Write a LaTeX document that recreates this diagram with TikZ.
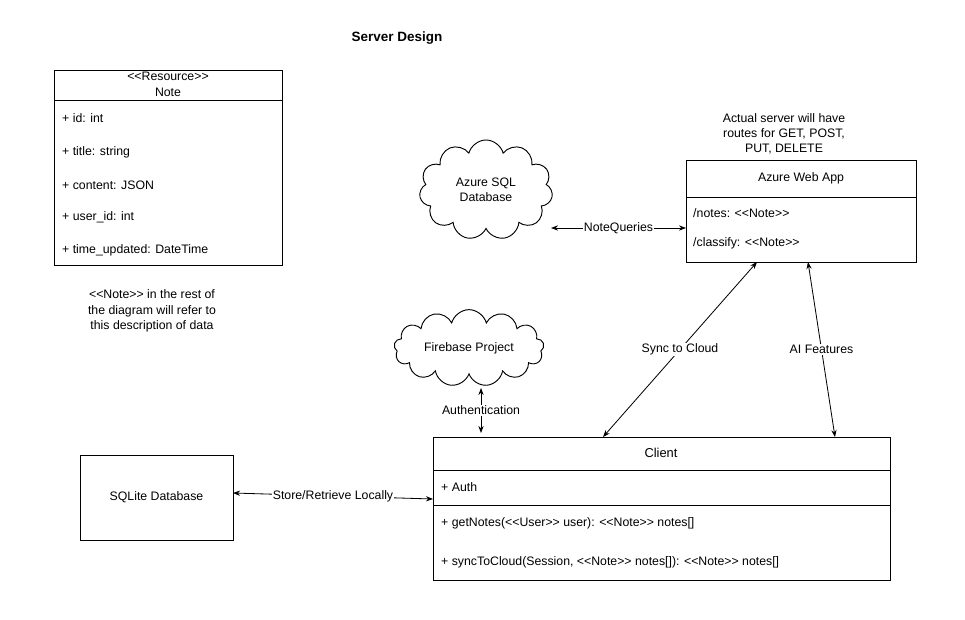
\documentclass[tikz,border=0pt]{standalone}
\usepackage{fontspec}
\setmainfont{Liberation Sans}
\usetikzlibrary{shapes.symbols,arrows.meta}
\newcommand\myL{<\kern0pt<}
\newcommand\myR{>\kern0pt>}
\begin{document}
\begin{tikzpicture}[x=0.03cm,y=-0.03cm,
  every node/.style={font=\fontsize{10.5}{13}\selectfont},
  box/.style={draw,line width=0.8pt},
  fld/.style={anchor=west,inner sep=0pt},
  lbl/.style={fill=white,inner sep=1pt},
  dbl/.style={{Stealth[length=6pt]}-{Stealth[length=6pt]},line width=0.7pt}]
\useasboundingbox (0,0) rectangle (965,619);
\node[font=\fontsize{11.5}{13}\selectfont\bfseries] (title) at (397,38) {Server Design};
% Note
\draw[box] (54,70) rectangle (282,265); \draw[line width=0.8pt] (54,100) -- (282,100);
\node (nres) at (168,76) {\myL Resource\myR};
\node (nname) at (168,92) {Note};
\node[fld] (f1) at (62,118) {+ id: int};
\node[fld] (f2) at (62,152) {+ title: string};
\node[fld] (f3) at (62,185) {+ content: JSON};
\node[fld] (f4) at (62,217) {+ user\_id: int};
\node[fld] (f5) at (62,250) {+ time\_updated: DateTime};
\node[align=center] (ndesc) at (152,311) {\myL Note\myR\ in the rest of\\the diagram will refer to\\this description of data};
\node[align=center] (routes) at (784,134) {Actual server will have\\routes for GET, POST,\\PUT, DELETE};
% Azure Web App
\draw[box] (686,160) rectangle (916,262); \draw[line width=0.8pt] (686,197) -- (916,197);
\coordinate (webW) at (686,228);
\node (webt) at (801,178) {Azure Web App};
\node[fld] (w1) at (693,213) {/notes: \myL Note\myR};
\node[fld] (w2) at (693,243) {/classify: \myL Note\myR};
% clouds
\node[cloud,draw,line width=0.8pt,cloud puffs=11,minimum width=4.0cm,minimum height=3.0cm,aspect=1.3,inner sep=2pt,align=center] (sql) at (486,190) {Azure SQL\\Database};
\node[cloud,draw,line width=0.8pt,cloud puffs=13,minimum width=4.5cm,minimum height=2.3cm,aspect=2.6,inner sep=3pt] (fb) at (469,348) {Firebase Project};
% Client
\draw[box] (433,437) rectangle (890,580);
\draw[line width=0.8pt] (433,470) -- (890,470); \draw[line width=0.8pt] (433,505) -- (890,505);
\node[font=\fontsize{11}{13}\selectfont] (clt) at (661,453) {Client};
\node[fld] (c1) at (441,487) {+ Auth};
\node[fld] (c2) at (441,523) {+ getNotes(\myL User\myR\ user): \myL Note\myR\ notes[]};
\node[fld] (c3) at (441,562) {+ syncToCloud(Session, \myL Note\myR\ notes[]): \myL Note\myR\ notes[]};
% SQLite
\node[box,inner sep=0pt,minimum width=4.59cm,minimum height=2.55cm] (lite) at (156.5,497.5) {SQLite Database};
% arrows
\coordinate (sqlE) at (551,228);
\coordinate (cSync) at (603,437); \coordinate (wSync) at (757,262);
\coordinate (cAI) at (835,437); \coordinate (wAI) at (808,262);
\coordinate (fbS) at (481,388); \coordinate (cAuth) at (481,433);
\coordinate (liteE) at (233,493); \coordinate (cW) at (433,499);
\draw[dbl] (sqlE) -- node[lbl]{NoteQueries} (webW);
\draw[dbl] (cSync) -- node[lbl]{Sync to Cloud} (wSync);
\draw[dbl] (cAI) -- node[lbl,pos=0.5]{AI Features} (wAI);
\draw[dbl] (fbS) -- node[lbl]{Authentication} (cAuth);
\draw[dbl] (liteE) -- node[lbl]{Store/Retrieve Locally} (cW);
\end{tikzpicture}
\end{document}
